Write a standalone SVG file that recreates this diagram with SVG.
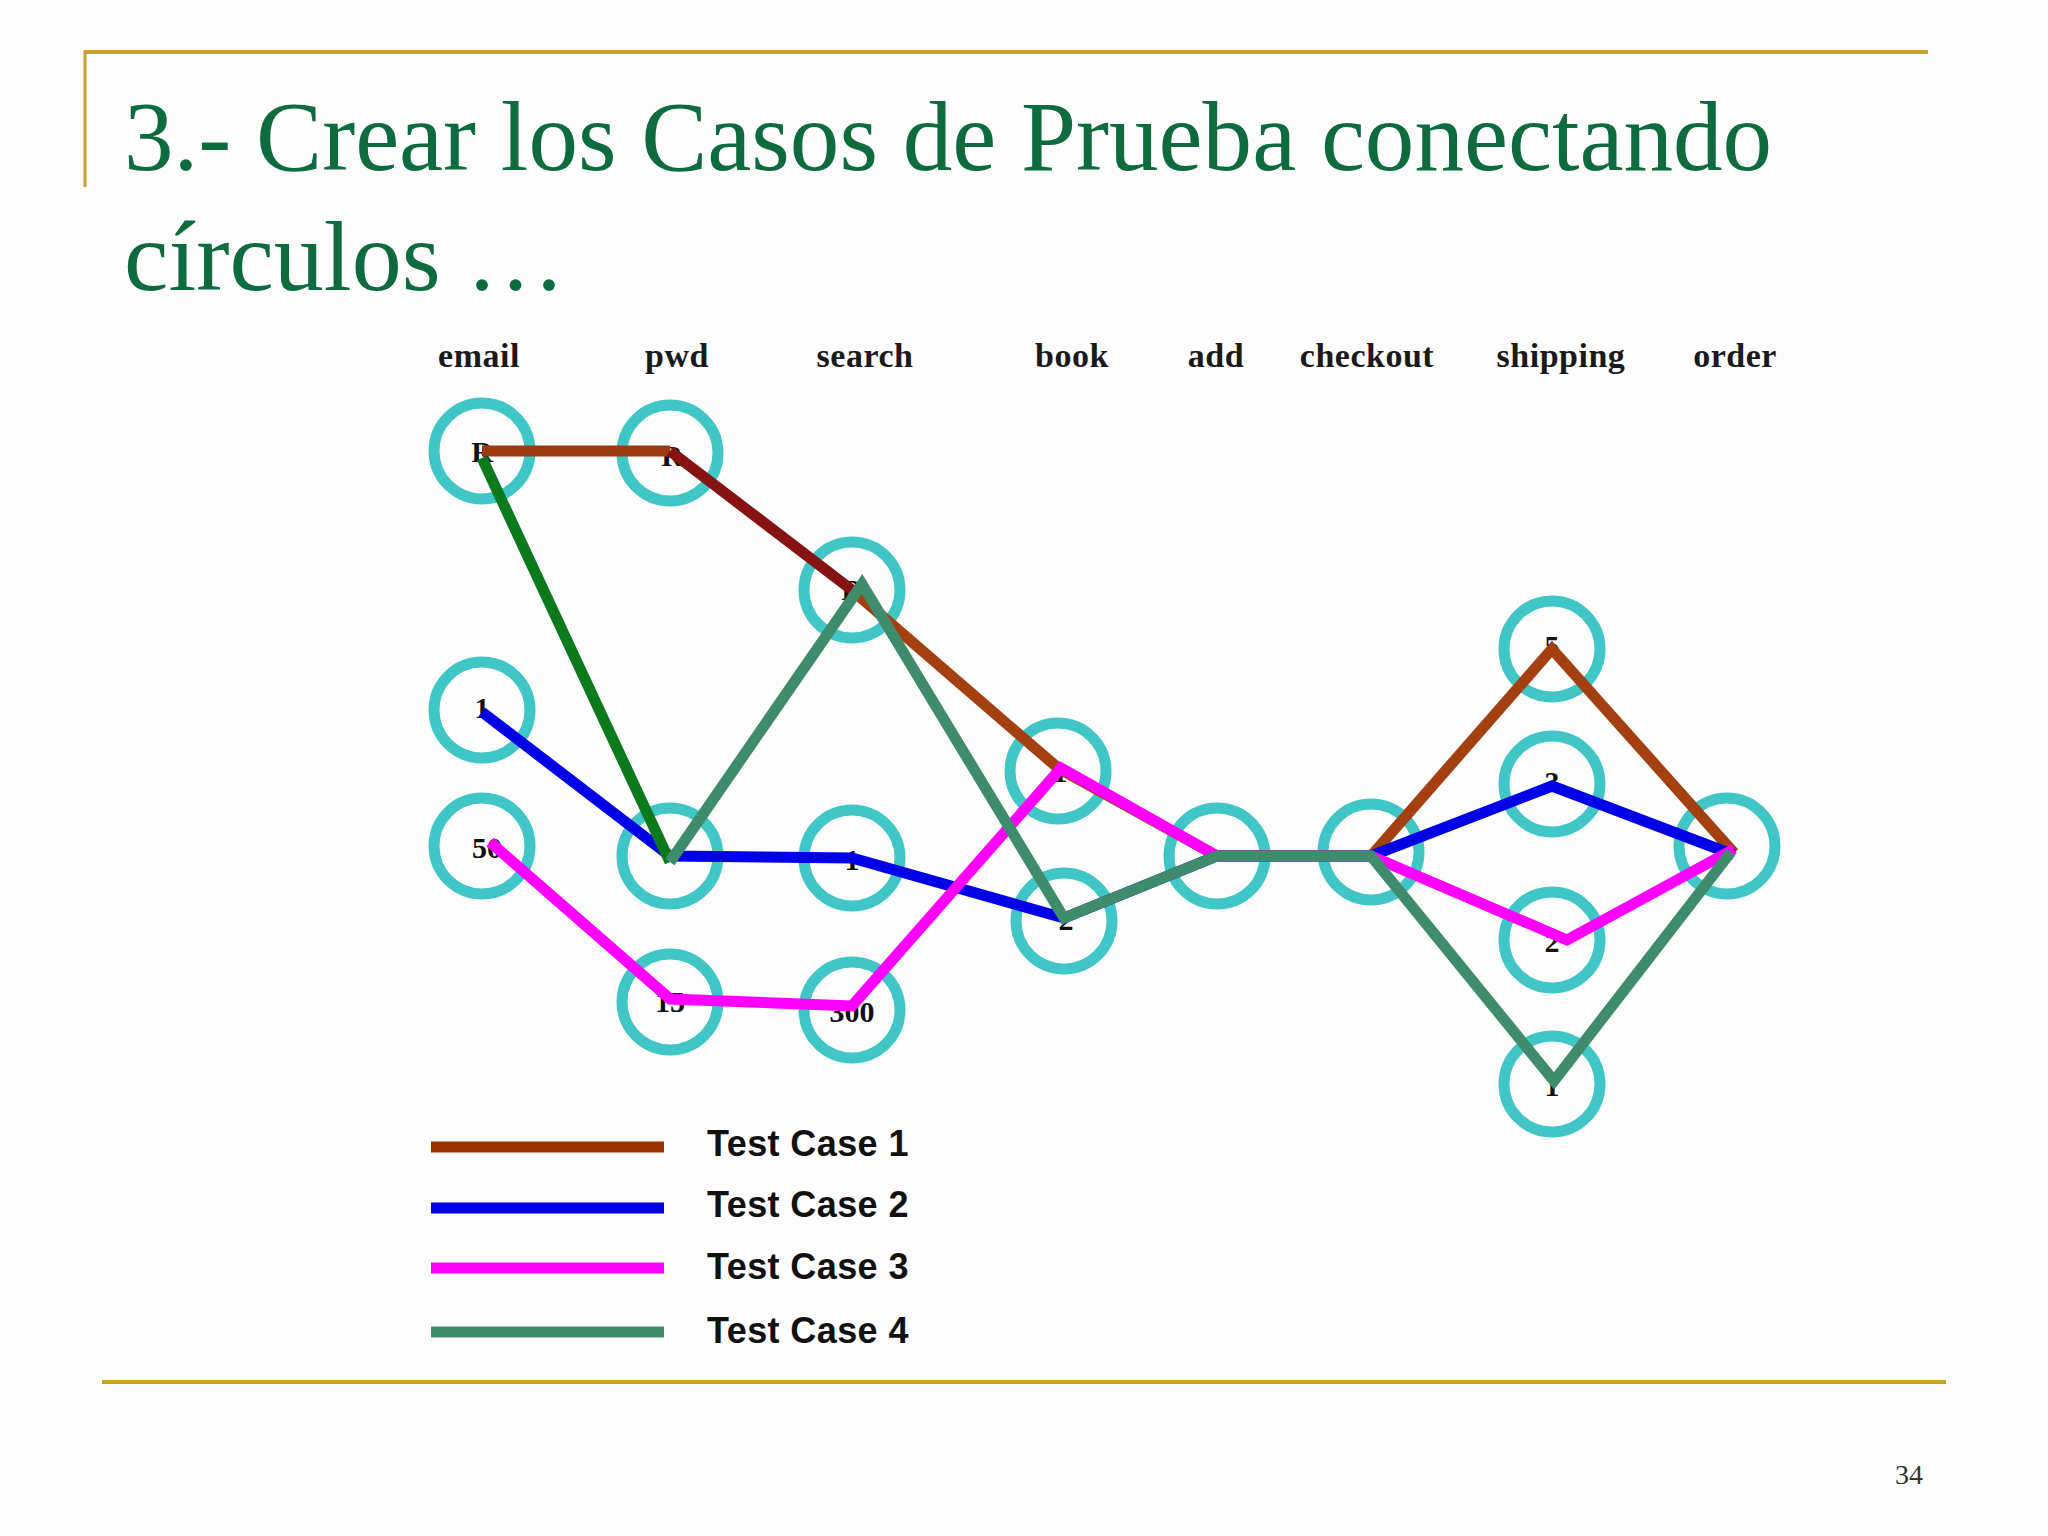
<svg xmlns="http://www.w3.org/2000/svg" width="2048" height="1536" viewBox="0 0 2048 1536">
<defs>
<style>
.title{font-family:"Liberation Serif","Times New Roman",serif;fill:#0E6B3E;font-size:100px}
.col{font-family:"Liberation Serif","Times New Roman",serif;font-weight:bold;font-size:34px;fill:#1A1A1A;text-anchor:middle;letter-spacing:0.5px}
.lbl{font-family:"Liberation Serif","Times New Roman",serif;font-weight:bold;font-size:30px;fill:#111;text-anchor:middle}
.node circle{fill:none;stroke:#40C6C6;stroke-width:11}
.leg{font-family:"Liberation Sans",Arial,sans-serif;font-weight:bold;font-size:36px;fill:#111;letter-spacing:0.4px}
.tc{fill:none;stroke-width:11;stroke-linejoin:miter;stroke-linecap:butt}
.gold{stroke:#C9A02A;fill:none}
</style>
</defs>
<rect width="2048" height="1536" fill="#FDFDFE"/>
<g id="frame">
<line class="gold" x1="85" y1="52" x2="1928" y2="52" stroke-width="4"/>
<line class="gold" x1="85" y1="50" x2="85" y2="187" stroke-width="3"/>
<line class="gold" x1="102" y1="1382" x2="1946" y2="1382" stroke-width="4"/>
</g>
<g id="title">
<text class="title" x="124" y="170" textLength="1648" lengthAdjust="spacingAndGlyphs">3.- Crear los Casos de Prueba conectando</text>
<text class="title" x="124" y="290">círculos …</text>
</g>
<g id="columns">
<text class="col" x="479" y="367">email</text>
<text class="col" x="677" y="367">pwd</text>
<text class="col" x="865" y="367">search</text>
<text class="col" x="1072" y="367">book</text>
<text class="col" x="1216" y="367">add</text>
<text class="col" x="1367" y="367">checkout</text>
<text class="col" x="1561" y="367">shipping</text>
<text class="col" x="1735" y="367">order</text>
</g>
<g id="email-R" class="node"><circle cx="482" cy="451" r="48"/><text class="lbl" x="482" y="462">R</text></g>
<g id="email-1" class="node"><circle cx="482" cy="710" r="48"/><text class="lbl" x="482" y="718">1</text></g>
<g id="email-50" class="node"><circle cx="482" cy="846" r="48"/><text class="lbl" x="487" y="858" font-weight="normal">50</text></g>
<g id="pwd-R" class="node"><circle cx="670" cy="453" r="48"/><text class="lbl" x="672" y="466">R</text></g>
<g id="pwd-mid" class="node"><circle cx="670" cy="856" r="48"/></g>
<g id="pwd-15" class="node"><circle cx="670" cy="1002" r="48"/><text class="lbl" x="670" y="1012" font-weight="normal">15</text></g>
<g id="search-R" class="node"><circle cx="852" cy="590" r="48"/><text class="lbl" x="852" y="600">R</text></g>
<g id="search-1" class="node"><circle cx="852" cy="858" r="48"/><text class="lbl" x="852" y="870">1</text></g>
<g id="search-300" class="node"><circle cx="852" cy="1010" r="48"/><text class="lbl" x="852" y="1022" font-weight="normal">300</text></g>
<g id="book-1" class="node"><circle cx="1058" cy="771" r="48"/><text class="lbl" x="1060" y="782">1</text></g>
<g id="book-2" class="node"><circle cx="1064" cy="921" r="48"/><text class="lbl" x="1066" y="930">2</text></g>
<g id="add" class="node"><circle cx="1217" cy="856" r="48"/></g>
<g id="checkout" class="node"><circle cx="1371" cy="852" r="48"/></g>
<g id="ship-5" class="node"><circle cx="1552" cy="649" r="48"/><text class="lbl" x="1552" y="656">5</text></g>
<g id="ship-3" class="node"><circle cx="1552" cy="784" r="48"/><text class="lbl" x="1552" y="792">3</text></g>
<g id="ship-2" class="node"><circle cx="1552" cy="940" r="48"/><text class="lbl" x="1552" y="952">2</text></g>
<g id="ship-1" class="node"><circle cx="1552" cy="1084" r="48"/><text class="lbl" x="1552" y="1096">1</text></g>
<g id="order" class="node"><circle cx="1727" cy="846" r="48"/></g>
<g id="connectors">
<polyline class="tc" stroke="#9C3A12" points="482,451 670,451"/>
<polyline class="tc" stroke="#861212" points="670,451 852,590"/>
<polyline class="tc" stroke="#A4400F" points="852,590 1058,768 1217,856 1371,856 1552,649 1734,853"/>
<polyline class="tc" stroke="#0000E6" points="482,712 670,856 852,858 1064,918 1217,856 1371,856 1552,786 1734,855"/>
<polyline class="tc" stroke="#FF00FF" points="490,842 670,999 852,1006 1061,768 1217,856 1371,856 1567,940 1734,849"/>
<polyline class="tc" stroke="#0B7A1C" points="482,458 670,862"/>
<polyline class="tc" stroke="#3E8C6C" points="670,862 862,584 1064,918 1217,856 1371,856 1554,1081 1731,852"/>
</g>
<g id="legend">
<line class="tc" stroke="#993300" x1="431" y1="1147" x2="664" y2="1147"/>
<line class="tc" stroke="#0000E6" x1="431" y1="1208" x2="664" y2="1208"/>
<line class="tc" stroke="#FF00FF" x1="431" y1="1268" x2="664" y2="1268"/>
<line class="tc" stroke="#3E8C6C" x1="431" y1="1332" x2="664" y2="1332"/>
<text class="leg" x="707" y="1156">Test Case 1</text>
<text class="leg" x="707" y="1217">Test Case 2</text>
<text class="leg" x="707" y="1279">Test Case 3</text>
<text class="leg" x="707" y="1343">Test Case 4</text>
</g>
<g id="page"><text x="1909" y="1484" text-anchor="middle" font-family="Liberation Serif, serif" font-size="28" fill="#333">34</text></g>
</svg>
